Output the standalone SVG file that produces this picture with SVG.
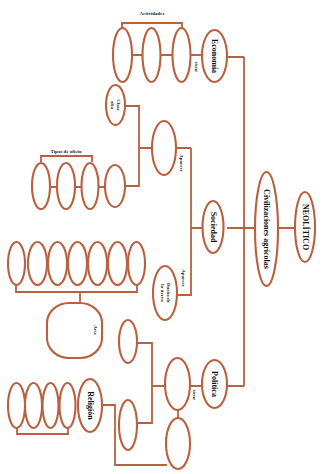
<svg xmlns="http://www.w3.org/2000/svg" width="328" height="474" viewBox="0 0 328 474">
<style>
.n{fill:#fff;stroke:#b9603f;stroke-width:2.1}
.c{fill:none;stroke:#b9603f;stroke-width:1.8}
.t{font-family:"Liberation Serif",serif;font-size:8px;font-weight:bold;fill:#111;text-anchor:middle;dominant-baseline:central}
.s{font-family:"Liberation Serif",serif;font-size:5px;font-weight:bold;fill:#222;text-anchor:middle;dominant-baseline:central}
</style>
<rect width="328" height="474" fill="#fff"/>
<g id="connectors">
<path class="c" d="M244 57V386"/>
<path class="c" d="M278 228H295M244 228H255"/>
<path class="c" d="M227 57H244M227 228H244M227 386H244"/>
<path class="c" d="M122 55H202"/>
<path class="c" d="M122 28V23H182V28"/>
<path class="c" d="M191 228H203M191 148V295H177M176 148H191"/>
<path class="c" d="M125 106H139V186H125M139 148H152"/>
<path class="c" d="M41 187H105M41 162V156H92V162"/>
<path class="c" d="M16 285V292H137V285M80 292V303"/>
<path class="c" d="M137 343H152V423H137M152 386H165M190 386H202M178 410V418"/>
<path class="c" d="M102 405H115V465H167"/>
<path class="c" d="M17 428V434H68V428"/>
</g>
<g id="neolitico"><ellipse class="n" cx="305" cy="227" rx="10" ry="35"/><text class="t" font-size="9" transform="rotate(90 305 227)" x="305" y="227">NEOLÍTICO</text></g>
<g id="civilizaciones"><ellipse class="n" cx="266.5" cy="229" rx="11.5" ry="57"/><text class="t" transform="rotate(90 266.5 229)" x="266.5" y="229">Civilizaciones agrícolas</text></g>
<g id="economia"><ellipse class="n" cx="214.5" cy="56" rx="12.5" ry="26"/><text class="t" transform="rotate(90 214.5 56)" x="214.5" y="56">Economía</text></g>
<text class="s" transform="rotate(90 196 67)" x="196" y="67">tiene</text>
<g id="act1"><ellipse class="n" cx="122.5" cy="55" rx="9.5" ry="27"/></g>
<g id="act2"><ellipse class="n" cx="151.5" cy="55" rx="9" ry="27"/></g>
<g id="act3"><ellipse class="n" cx="181.5" cy="55" rx="9" ry="27"/></g>
<text class="s" x="152" y="13">Actividades</text>
<g id="sociedad"><ellipse class="n" cx="213" cy="227" rx="10.5" ry="26"/><text class="t" transform="rotate(90 213 227)" x="213" y="227">Sociedad</text></g>
<g id="medio"><ellipse class="n" cx="164" cy="148" rx="12" ry="27"/></g>
<text class="s" transform="rotate(90 181 163)" x="181" y="163">Aparece</text>
<g id="crea"><ellipse class="n" cx="115.5" cy="105" rx="9.5" ry="20"/><text class="s" transform="rotate(90 115.5 105)" x="115.5" y="102">Clase</text><text class="s" transform="rotate(90 115.5 105)" x="115.5" y="108">alta</text></g>
<g id="tipo4"><ellipse class="n" cx="115" cy="186" rx="10" ry="21"/></g>
<g id="tipo3"><ellipse class="n" cx="90" cy="186" rx="8.5" ry="23"/></g>
<g id="tipo2"><ellipse class="n" cx="66" cy="186" rx="9" ry="23"/></g>
<g id="tipo1"><ellipse class="n" cx="41" cy="186" rx="9" ry="23"/></g>
<text class="s" x="66" y="151">Tipos de oficio</text>
<g id="dueno"><ellipse class="n" cx="165" cy="293" rx="12" ry="27"/><text class="s" transform="rotate(90 165 293)" x="165" y="290">Dueño de</text><text class="s" transform="rotate(90 165 293)" x="165" y="296">la tierra</text></g>
<text class="s" transform="rotate(90 183 278)" x="183" y="278">Aparece</text>
<g id="arte1"><ellipse class="n" cx="16.5" cy="263.5" rx="8.5" ry="21.5"/></g>
<g id="arte2"><ellipse class="n" cx="37.5" cy="263.5" rx="9.5" ry="21.5"/></g>
<g id="arte3"><ellipse class="n" cx="57.5" cy="263.5" rx="9.5" ry="21.5"/></g>
<g id="arte4"><ellipse class="n" cx="77.5" cy="263.5" rx="9.5" ry="21.5"/></g>
<g id="arte5"><ellipse class="n" cx="97.5" cy="263.5" rx="9.5" ry="21.5"/></g>
<g id="arte6"><ellipse class="n" cx="117.5" cy="263.5" rx="9.5" ry="21.5"/></g>
<g id="arte7"><ellipse class="n" cx="136.5" cy="263.5" rx="8.5" ry="21.5"/></g>
<g id="arte"><rect class="n" x="47" y="303" width="55" height="55" rx="22" ry="20"/><text class="s" transform="rotate(90 95 330)" x="95" y="330">Arte</text></g>
<g id="politica"><ellipse class="n" cx="214.5" cy="384" rx="12.5" ry="24"/><text class="t" transform="rotate(90 214.5 384)" x="214.5" y="384">Política</text></g>
<text class="s" transform="rotate(90 194 395)" x="194" y="395">tiene</text>
<g id="pol1"><ellipse class="n" cx="177.5" cy="384" rx="12.5" ry="26"/></g>
<g id="pol2"><ellipse class="n" cx="178" cy="443.5" rx="12" ry="25.5"/></g>
<g id="pol3"><ellipse class="n" cx="128" cy="341.5" rx="9" ry="21.5"/></g>
<g id="pol4"><ellipse class="n" cx="128" cy="425" rx="9" ry="25"/></g>
<g id="religion"><ellipse class="n" cx="90" cy="405.5" rx="12" ry="26.5"/><text class="t" font-size="7" transform="rotate(90 90 405.5)" x="90" y="405.5">Religión</text></g>
<g id="rel1"><ellipse class="n" cx="16.5" cy="405.5" rx="8.5" ry="22.5"/></g>
<g id="rel2"><ellipse class="n" cx="33.5" cy="405.5" rx="8.5" ry="22.5"/></g>
<g id="rel3"><ellipse class="n" cx="50.5" cy="405.5" rx="8" ry="22.5"/></g>
<g id="rel4"><ellipse class="n" cx="67.5" cy="405.5" rx="8" ry="22.5"/></g>
</svg>
